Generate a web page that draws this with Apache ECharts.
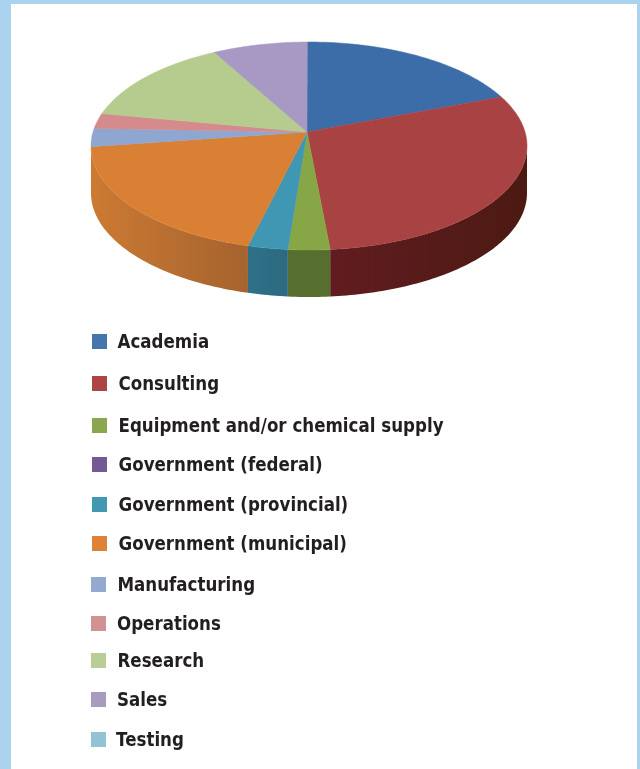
<!DOCTYPE html>
<html>
<head>
<meta charset="utf-8">
<title>Employment sector breakdown</title>
<style>
  html, body { margin: 0; padding: 0; background: #abd2ef; }
  #chart { width: 640px; height: 769px; }
</style>
<script src="https://cdn.jsdelivr.net/npm/echarts@6/dist/echarts.min.js"></script>
</head>
<body>
<div id="chart"></div>
<script>
// Sector names and share of respondents (percent)
const sectors = ['Academia', 'Consulting', 'Equipment and/or chemical supply', 'Government (federal)',
  'Government (provincial)', 'Government (municipal)', 'Manufacturing', 'Operations', 'Research', 'Sales', 'Testing'];
const shares = [19.3, 29.5, 2.7, 0, 2.6, 18.8, 2.8, 2.4, 13.9, 8.0, 0];

// Slice and wall colours
const topColors = ['#3d6da8', '#a94242', '#87a747', '#735a95', '#3f97b3', '#d98035',
  '#8ea6d0', '#d58a8c', '#b6cc8f', '#a798c4', '#92c3d4'];
const wallLeft = ['#2c5580', '#611c20', '#566f2e', '#4d3c66', '#2e7189', '#cc7a33',
  '#62749a', '#99605f', '#80916a', '#74688c', '#659099'];
const wallRight = ['#2c5580', '#4c1a12', '#566f2e', '#4d3c66', '#2c6a80', '#a5632e',
  '#62749a', '#99605f', '#80916a', '#74688c', '#659099'];
const swatchColors = ['#4674ac', '#ab4645', '#8aa64f', '#735a95', '#4298b0', '#dd8239',
  '#93a9cf', '#d19392', '#b9cd96', '#a99bbd', '#92c3d4'];

// Legend row layout: swatch left, swatch top, text left
const swatchX = [92, 92, 92, 92, 92, 92, 91, 91, 91, 91, 91];
const swatchY = [334, 376, 418, 457, 497, 536, 577, 616, 653, 692, 732];
const labelX = [117.5, 118.5, 118.5, 118.5, 118.5, 118.5, 117.5, 117, 117.5, 117, 116];

// Tilted disc: rim ellipse, apex offset by perspective, wall depth, first slice angle
const disc = { cx: 309, cy: 146, rx: 218, ry: 104, persp: -0.135, depth: 47, apexX: 307, start: -0.0095 };
const total = shares.reduce((a, b) => a + b, 0);

// Projects a clockwise-from-top disc angle onto the tilted rim
function rimPoint(theta) {
  const u = Math.sin(theta), v = -Math.cos(theta), c = disc.persp;
  const d = 1 + c * v;
  const X = u * Math.sqrt(1 - c * c) / d, Y = (v + c) / d;
  return { x: disc.cx + disc.rx * X, y: disc.cy + disc.ry * Y, front: Y >= 0 };
}

let running = 0;
const sliceData = shares.map((v, i) => {
  const item = { name: sectors[i], value: [v, running] };
  running += v;
  return item;
});

function renderSlice(params, api) {
  const value = api.value(0), start = api.value(1);
  if (!value) return { type: 'group', children: [] };
  const i = params.dataIndex;
  const a0 = disc.start + start / total * Math.PI * 2;
  const a1 = disc.start + (start + value) / total * Math.PI * 2;
  const steps = Math.max(4, Math.ceil((a1 - a0) * 60));
  const rim = [];
  for (let k = 0; k <= steps; k++) rim.push(rimPoint(a0 + (a1 - a0) * k / steps));
  const apex = [disc.apexX, disc.cy + disc.ry * disc.persp];
  const children = [];
  const front = rim.filter(p => p.front);
  if (front.length > 1) {
    const upper = front.map(p => [p.x, p.y]);
    const lower = front.slice().reverse().map(p => [p.x, p.y + disc.depth]);
    children.push({
      type: 'polygon', z2: 1,
      shape: { points: upper.concat(lower) },
      style: {
        fill: new echarts.graphic.LinearGradient(0, 0, 1, 0, [
          { offset: 0, color: wallLeft[i] }, { offset: 1, color: wallRight[i] }
        ])
      }
    });
  }
  children.push({
    type: 'polygon', z2: 2,
    shape: { points: [apex].concat(rim.map(p => [p.x, p.y])) },
    style: { fill: topColors[i], stroke: topColors[i], lineWidth: 0.5 }
  });
  return { type: 'group', children };
}

const legendElements = [];
sectors.forEach((name, i) => {
  legendElements.push({
    type: 'rect', z: 5,
    shape: { x: swatchX[i], y: swatchY[i], width: 15, height: 15 },
    style: { fill: swatchColors[i] }
  });
  legendElements.push({
    type: 'text', z: 5,
    x: labelX[i], y: swatchY[i] + 9, scaleX: 0.878, scaleY: 1,
    style: {
      text: name, fill: '#231f20',
      font: 'bold 19px "DejaVu Sans", sans-serif',
      verticalAlign: 'middle', align: 'left'
    }
  });
});

const chart = echarts.init(document.getElementById('chart'), null, { renderer: 'canvas' });
chart.setOption({
  animation: false,
  backgroundColor: '#abd2ef',
  graphic: [
    { type: 'rect', z: -1, shape: { x: 11, y: 4, width: 626, height: 765 }, style: { fill: '#ffffff' } }
  ].concat(legendElements),
  series: [{
    type: 'custom',
    coordinateSystem: 'none',
    renderItem: renderSlice,
    data: sliceData,
    silent: true
  }]
});
</script>
</body>
</html>
